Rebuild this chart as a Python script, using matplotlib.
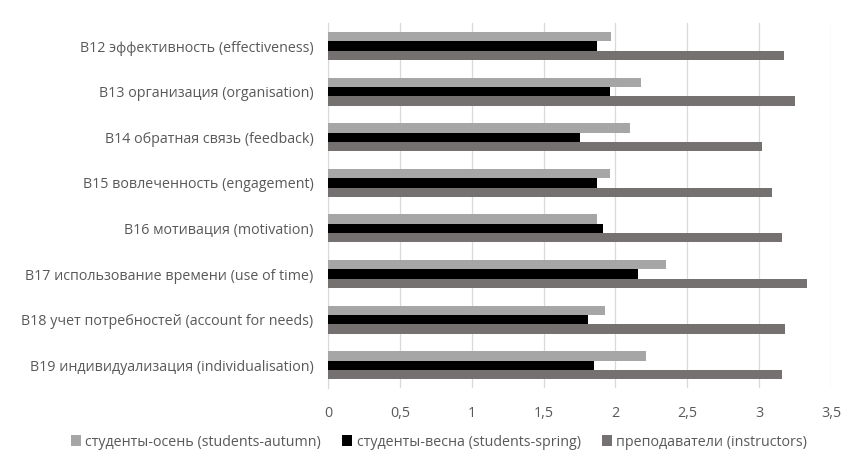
import matplotlib
matplotlib.use("Agg")
import matplotlib.pyplot as plt
import numpy as np

categories = [
    "B12 эффективность (effectiveness)",
    "B13 организация (organisation)",
    "B14 обратная связь (feedback)",
    "B15 вовлеченность (engagement)",
    "B16 мотивация (motivation)",
    "B17 использование времени (use of time)",
    "B18 учет потребностей (account for needs)",
    "B19 индивидуализация (individualisation)",
]
students_autumn = [1.97, 2.18, 2.10, 1.96, 1.87, 2.35, 1.93, 2.21]
students_spring = [1.87, 1.96, 1.75, 1.87, 1.91, 2.16, 1.81, 1.85]
instructors = [3.17, 3.245, 3.02, 3.09, 3.16, 3.33, 3.18, 3.16]
series_names = [
    "студенты-осень (students-autumn)",
    "студенты-весна (students-spring)",
    "преподаватели (instructors)",
]
xticks = [0, 0.5, 1, 1.5, 2, 2.5, 3, 3.5]
xtick_labels = ["0", "0,5", "1", "1,5", "2", "2,5", "3", "3,5"]

colors = ["#a6a6a6", "#000000", "#767171"]
text_color = "#595959"
plt.rcParams["font.family"] = ["Open Sans", "DejaVu Sans"]

fig = plt.figure(figsize=(8.56, 4.55), dpi=100)
ax = fig.add_axes([0.383, 0.147, 0.588, 0.802])

n = len(categories)
y = np.arange(n)
h = 0.205
series = [students_autumn, students_spring, instructors]
for i, (vals, c, name) in enumerate(zip(series, colors, series_names)):
    ax.barh(y + (i - 1) * h, vals, height=h, color=c, label=name, zorder=3)

ax.set_ylim(n - 0.5, -0.5)
ax.set_xlim(0, 3.5)
ax.set_yticks(y)
ax.set_yticklabels(categories, fontsize=10.3, color=text_color)
ax.set_xticks(xticks)
ax.set_xticklabels(xtick_labels, fontsize=10.3, color=text_color)
ax.tick_params(axis="both", length=0)
ax.tick_params(axis="x", pad=13)
ax.tick_params(axis="y", pad=10.5)
ax.grid(axis="x", color="#d9d9d9", linewidth=0.9, zorder=0)
for side in ["top", "right", "bottom"]:
    ax.spines[side].set_visible(False)
ax.spines["left"].set_color("#d9d9d9")

fig.legend(loc="center", bbox_to_anchor=(0.513, 1 - 442 / 455), ncol=3, frameon=False,
           fontsize=10.3, labelcolor=text_color, handlelength=0.7, handleheight=0.7,
           handletextpad=0.3, columnspacing=1.5)

fig.savefig("out.png", dpi=100, facecolor="white")
